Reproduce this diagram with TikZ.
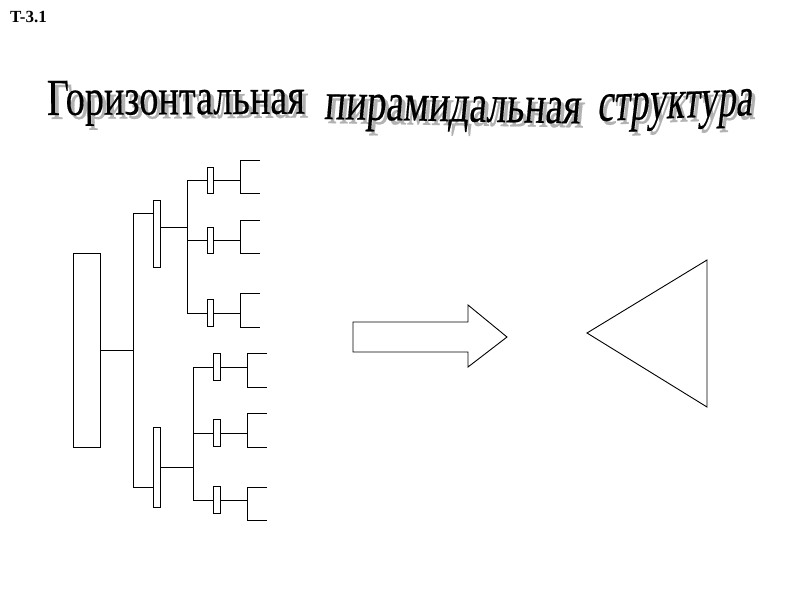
\documentclass[tikz,border=0pt]{standalone}
\usepackage{fontspec}
\setmainfont{Liberation Serif}
\newfontfamily\ttlA[FakeBold=0.4]{Liberation Serif}
\newfontfamily\ttlB[FakeBold=0.4,FakeSlant=0.1]{Liberation Serif}
\newfontfamily\ttlC[FakeBold=0.4,FakeSlant=0.24]{Liberation Serif}
\usepackage{graphicx}
\usetikzlibrary{calc}
\newcommand{\shadowed}[1]{\makebox[0pt][l]{\hspace{5pt}\raisebox{-4pt}{\color{black!30}#1}}#1}
\begin{document}
\begin{tikzpicture}[x=1pt,y=-1pt,
  box/.style={draw=black,line width=0.9pt,fill=white,inner sep=0pt,outer sep=0pt},
  ln/.style={draw=black,line width=0.9pt},
  titlepart/.style={inner sep=0pt,outer sep=0pt,anchor=base west}
]
\useasboundingbox (0,0) rectangle (800,600);
\node[anchor=base west,inner sep=0pt,font=\fontsize{17}{20}\selectfont\bfseries] (lbl) at (10,22) {T-3.1};
% title (WordArt-like, with shadow)
\node[titlepart,rotate=0.3] (title1) at (47,115) {\resizebox{258pt}{\height}{\ttlA\fontsize{52}{60}\selectfont\shadowed{Горизонтальная}}};
\node[titlepart,rotate=-1] (title2) at (324,119) {\resizebox{256pt}{\height}{\ttlB\fontsize{54}{60}\selectfont\shadowed{пирамидальная}}};
\node[titlepart,rotate=2.2] (title3) at (597,121) {\resizebox{155pt}{\height}{\ttlC\fontsize{56}{60}\selectfont\shadowed{структура}}};
% nodes
\node[box,minimum width=27pt,minimum height=194pt] (root) at (86.5,350) {};
\node[box,minimum width=7pt,minimum height=67pt] (mid1) at (156.5,233.5) {};
\node[box,minimum width=7pt,minimum height=80pt] (mid2) at (156.5,467) {};
\node[box,minimum width=6pt,minimum height=26pt] (s1) at (210,180) {};
\node[box,minimum width=6pt,minimum height=26pt] (s2) at (210,240) {};
\node[box,minimum width=6pt,minimum height=27pt] (s3) at (210,313) {};
\node[box,minimum width=7pt,minimum height=27pt] (s4) at (216.5,367) {};
\node[box,minimum width=7pt,minimum height=27pt] (s5) at (216.5,433) {};
\node[box,minimum width=7pt,minimum height=27pt] (s6) at (216.5,500) {};
% trunk
\coordinate (t1) at (133,213);
\coordinate (t2) at (133,487);
\draw[ln] (root.east) -- (root.east -| t1);
\draw[ln] (mid1.west |- t1) -- (t1) -- (t2) -- (mid2.west |- t2);
% upper branch
\coordinate (v1) at (187,227);
\draw[ln] (mid1.east |- v1) -- (v1);
\draw[ln] (s1.west) -| (v1);
\draw[ln] (s3.west) -| (v1);
\draw[ln] (s2.west) -- (s2.west -| v1);
% lower branch
\coordinate (v2) at (193,467);
\draw[ln] (mid2.east) -- (v2);
\draw[ln] (s4.west) -| (v2);
\draw[ln] (s6.west) -| (v2);
\draw[ln] (s5.west) -- (s5.west -| v2);
% leaf brackets
\foreach \s/\bx/\ex/\up/\dn in {s1/240/260/20/13, s2/240/260/20/13, s3/240/260/20/14,
                              s4/247/267/14/20, s5/247/267/20/14, s6/247/267/13/20}{
  \draw[ln] (\s.east) -- (\s.east -| \bx,0) coordinate (j\s);
  \draw[ln] ($(j\s)+(\ex-\bx,-\up)$) -- ($(j\s)+(0,-\up)$) -- ($(j\s)+(0,\dn)$) -- ($(j\s)+(\ex-\bx,\dn)$);
}
% block arrow
\draw[line width=0.9pt] (353,322) -- (468,322) -- (468,305) -- (507,337) -- (468,367) -- (468,352) -- (353,352) -- cycle;
% triangle
\draw[line width=0.9pt] (707,260) -- (587,333) -- (707,407) -- cycle;
\end{tikzpicture}
\end{document}
